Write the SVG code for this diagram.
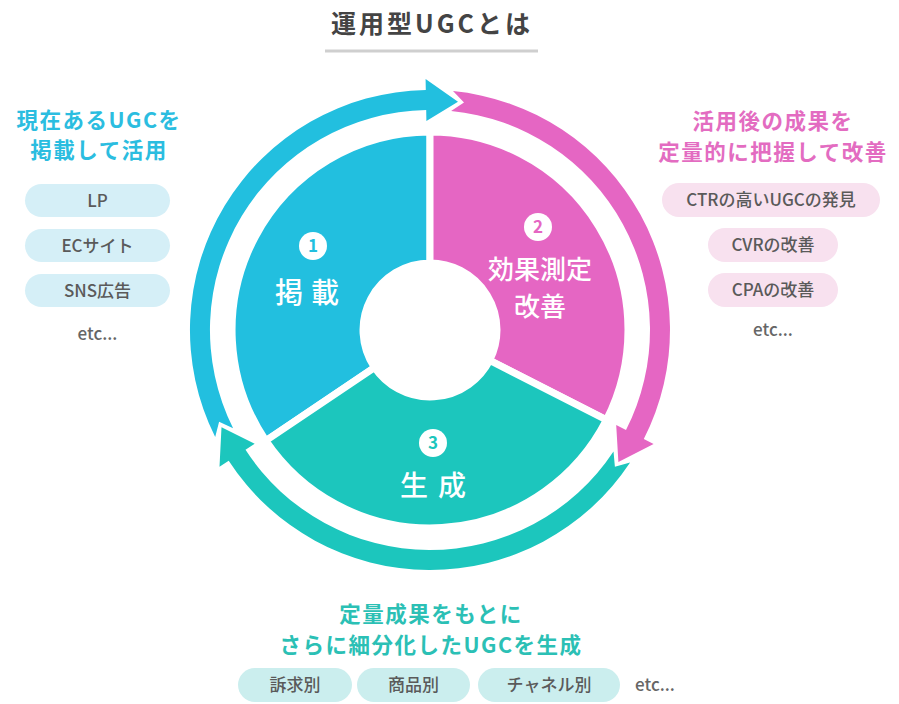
<svg xmlns="http://www.w3.org/2000/svg" width="899" height="704" viewBox="0 0 899 704">
<style>
text{font-family:"Noto Sans CJK JP","Noto Sans",sans-serif;}
.title{font-size:25px;font-weight:700;fill:#444;letter-spacing:3px;}
.head{font-size:21.5px;font-weight:700;letter-spacing:1.5px;}
.pill{font-size:17px;font-weight:500;fill:#5a5a5a;}
.etc{font-size:17px;font-weight:500;fill:#666;}
.seg{stroke:#fff;stroke-width:7;stroke-linejoin:miter;}
.lbl{fill:#fff;font-weight:500;}
.num{font-size:17px;font-weight:700;}
</style>
<rect width="899" height="704" fill="#fff"/>

<g id="title">
<text class="title" x="432" y="33" text-anchor="middle">運用型UGCとは</text>
<line x1="325" y1="51" x2="538" y2="51" stroke="#cfcfcf" stroke-width="3"/>
</g>

<g id="connectors">
<path id="arrow-cyan" fill="#22bfdf" d="M 215.2,437.1 A 240 240 0 0 1 425.8,90.0 L 425.6,79.0 L 458.0,101.7 L 426.4,121.0 L 426.2,110.0 A 220 220 0 0 0 233.1,428.2 L 219.1,421.7 Z"/>
<path id="arrow-pink" fill="#e566c3" d="M 453.0,91.1 A 240 240 0 0 1 643.8,439.0 L 653.6,444.0 L 618.4,461.9 L 616.2,424.9 L 626.0,429.9 A 220 220 0 0 0 451.1,111.0 L 464.0,102.5 Z"/>
<path id="arrow-teal" fill="#1cc6bd" d="M 630.1,462.5 A 240 240 0 0 1 228.7,460.7 L 219.5,466.7 L 221.5,427.2 L 254.7,443.8 L 245.5,449.8 A 220 220 0 0 0 613.5,451.4 L 614.9,466.8 Z"/>
</g>

<g id="node-1">
<path class="seg" fill="#22bfdf" d="M 265.9,440.7 A 198 198 0 0 1 430,132 L 430,263 A 67 67 0 0 0 374.5,367.5 Z"/>
<circle cx="313" cy="246" r="14" fill="#fff"/>
<text class="num" x="313" y="252" text-anchor="middle" fill="#22bfdf">1</text>
<text class="lbl" x="311" y="302.5" text-anchor="middle" font-size="28" letter-spacing="8">掲載</text>
</g>

<g id="node-2">
<path class="seg" fill="#e566c3" d="M 430,132 A 198 198 0 0 1 606.4,419.9 L 489.7,360.4 A 67 67 0 0 0 430,263 Z"/>
<circle cx="538" cy="227" r="14" fill="#fff"/>
<text class="num" x="538" y="233" text-anchor="middle" fill="#e566c3">2</text>
<text class="lbl" x="540" y="279" text-anchor="middle" font-size="26">効果測定</text>
<text class="lbl" x="540" y="316" text-anchor="middle" font-size="26">改善</text>
</g>

<g id="node-3">
<path class="seg" fill="#1cc6bd" d="M 606.4,419.9 A 198 198 0 0 1 265.9,440.7 L 374.5,367.5 A 67 67 0 0 0 489.7,360.4 Z"/>
<circle cx="433" cy="443" r="14" fill="#fff"/>
<text class="num" x="433" y="449" text-anchor="middle" fill="#1cc6bd">3</text>
<text class="lbl" x="438" y="495.5" text-anchor="middle" font-size="28" letter-spacing="10">生成</text>
</g>

<g id="left-notes">
<text class="head" x="99" y="128" text-anchor="middle" fill="#2bbde0">現在あるUGCを</text>
<text class="head" x="99" y="158" text-anchor="middle" fill="#2bbde0">掲載して活用</text>
<rect x="25" y="184" width="145" height="33" rx="16.5" fill="#d5eff7"/>
<text class="pill" x="97.5" y="206.5" text-anchor="middle">LP</text>
<rect x="25" y="229" width="145" height="33" rx="16.5" fill="#d5eff7"/>
<text class="pill" x="97.5" y="251.5" text-anchor="middle">ECサイト</text>
<rect x="25" y="274" width="145" height="33" rx="16.5" fill="#d5eff7"/>
<text class="pill" x="97.5" y="296.5" text-anchor="middle">SNS広告</text>
<text class="etc" x="97.5" y="340" text-anchor="middle">etc...</text>
</g>

<g id="right-notes">
<text class="head" x="773" y="128.5" text-anchor="middle" fill="#e36cc1" letter-spacing="3">活用後の成果を</text>
<text class="head" x="773" y="159.5" text-anchor="middle" fill="#e36cc1" letter-spacing="3">定量的に把握して改善</text>
<rect x="662" y="183" width="218" height="34" rx="17" fill="#f8e1ef"/>
<text class="pill" x="771" y="206" text-anchor="middle">CTRの高いUGCの発見</text>
<rect x="708" y="228" width="130" height="34" rx="17" fill="#f8e1ef"/>
<text class="pill" x="773" y="251" text-anchor="middle">CVRの改善</text>
<rect x="708" y="273" width="130" height="34" rx="17" fill="#f8e1ef"/>
<text class="pill" x="773" y="296" text-anchor="middle">CPAの改善</text>
<text class="etc" x="773" y="336" text-anchor="middle">etc...</text>
</g>

<g id="bottom-notes">
<text class="head" x="431" y="622" text-anchor="middle" fill="#2bc0b5">定量成果をもとに</text>
<text class="head" x="431" y="652.5" text-anchor="middle" fill="#2bc0b5" letter-spacing="2.5">さらに細分化したUGCを生成</text>
<rect x="238" y="668" width="114" height="34" rx="17" fill="#cbeeee"/>
<text class="pill" x="295" y="691" text-anchor="middle">訴求別</text>
<rect x="357" y="668" width="113" height="34" rx="17" fill="#cbeeee"/>
<text class="pill" x="413.5" y="691" text-anchor="middle">商品別</text>
<rect x="478" y="668" width="142" height="34" rx="17" fill="#cbeeee"/>
<text class="pill" x="549" y="691" text-anchor="middle">チャネル別</text>
<text class="etc" x="655" y="691" text-anchor="middle">etc...</text>
</g>
</svg>
